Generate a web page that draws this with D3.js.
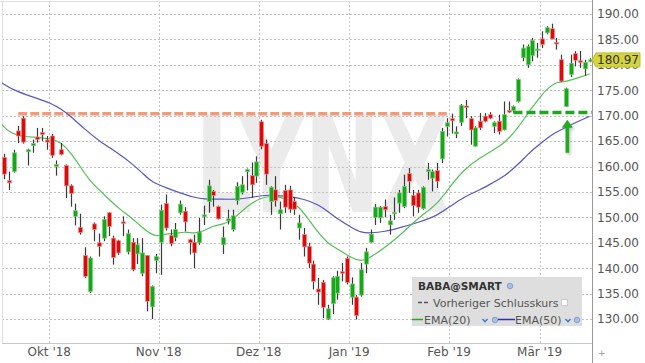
<!DOCTYPE html>
<html><head><meta charset="utf-8">
<script src="https://cdn.jsdelivr.net/npm/d3@7"></script>
<style>
body{margin:0;background:#fff;}
svg{display:block;font-family:"DejaVu Sans",Verdana,sans-serif;}
</style>
</head><body>
<svg id="c" width="645" height="363"></svg>
<script>
const dates = [
"2018-09-17","2018-09-18","2018-09-19","2018-09-20","2018-09-21","2018-09-24","2018-09-25","2018-09-26","2018-09-27","2018-09-28",
"2018-10-01","2018-10-02","2018-10-03","2018-10-04","2018-10-05","2018-10-08","2018-10-09","2018-10-10","2018-10-11","2018-10-12",
"2018-10-15","2018-10-16","2018-10-17","2018-10-18","2018-10-19","2018-10-22","2018-10-23","2018-10-24","2018-10-25","2018-10-26",
"2018-10-29","2018-10-30","2018-10-31",
"2018-11-01","2018-11-02","2018-11-05","2018-11-06","2018-11-07","2018-11-08","2018-11-09","2018-11-12","2018-11-13","2018-11-14",
"2018-11-15","2018-11-16","2018-11-19","2018-11-20","2018-11-21","2018-11-23","2018-11-26","2018-11-27","2018-11-28","2018-11-29","2018-11-30",
"2018-12-03","2018-12-04","2018-12-06","2018-12-07","2018-12-10","2018-12-11","2018-12-12","2018-12-13","2018-12-14","2018-12-17",
"2018-12-18","2018-12-19","2018-12-20","2018-12-21","2018-12-24","2018-12-26","2018-12-27","2018-12-28","2018-12-31",
"2019-01-02","2019-01-03","2019-01-04","2019-01-07","2019-01-08","2019-01-09","2019-01-10","2019-01-11","2019-01-14","2019-01-15",
"2019-01-16","2019-01-17","2019-01-18","2019-01-22","2019-01-23","2019-01-24","2019-01-25","2019-01-28","2019-01-29","2019-01-30","2019-01-31",
"2019-02-01","2019-02-04","2019-02-05","2019-02-06","2019-02-07","2019-02-08","2019-02-11","2019-02-12","2019-02-13","2019-02-14",
"2019-02-15","2019-02-19","2019-02-20","2019-02-21","2019-02-22","2019-02-25","2019-02-26","2019-02-27","2019-02-28",
"2019-03-01","2019-03-04","2019-03-05","2019-03-06","2019-03-07","2019-03-08","2019-03-11","2019-03-12","2019-03-13","2019-03-14","2019-03-15"
];
const open = [161.8,157.2,159.0,167.0,169.5,162.9,164.1,165.8,166.7,165.2,
166.0,160.0,163.3,160.2,156.2,150.2,148.0,142.5,135.4,148.7,
145.0,145.9,150.9,145.9,145.4,149.1,143.2,145.1,142.8,139.0,
142.5,132.4,141.5,145.1,152.7,146.4,146.0,150.9,151.2,145.6,
145.1,145.0,150.1,153.1,155.1,152.1,144.6,149.3,147.6,153.3,
154.9,159.0,158.2,158.1,168.8,164.5,153.1,155.4,150.7,155.3,
155.4,153.1,147.9,146.6,144.3,140.8,135.9,137.2,130.0,133.0,
135.1,139.3,141.9,134.3,134.3,134.7,140.8,145.1,150.0,149.9,
152.1,148.5,150.8,152.8,152.1,158.6,154.3,154.8,151.7,159.0,
157.7,159.2,161.5,167.9,169.4,166.4,168.7,171.9,169.4,164.0,
168.9,169.9,170.2,167.9,168.9,167.2,171.0,171.0,172.8,181.4,
180.0,181.8,182.8,185.1,186.3,187.1,184.4,181.0,171.8,178.1,
182.2,180.8,179.2,180.8];
const high = [162.5,159.0,163.3,168.0,169.9,163.5,165.3,167.6,167.6,166.0,
166.4,161.2,164.6,160.4,156.5,152.7,150.7,144.1,142.3,149.0,
146.8,150.2,151.0,146.4,145.6,150.2,147.6,145.9,145.9,145.9,
142.6,136.6,142.8,152.5,154.5,147.6,148.9,153.3,152.0,145.8,
146.6,149.9,152.3,157.4,155.4,152.3,148.2,151.5,151.5,156.9,
158.1,159.6,160.8,162.0,169.2,165.3,156.1,158.1,153.1,156.4,
156.2,154.0,150.5,147.9,145.0,141.5,138.1,137.7,132.8,138.4,
139.5,141.0,142.3,138.2,134.7,141.0,144.0,147.6,152.6,152.2,
153.5,150.5,153.9,155.4,158.4,159.7,155.4,155.4,156.1,160.7,
159.4,160.7,167.6,169.5,170.4,167.9,172.3,173.1,169.9,167.9,
170.5,170.5,170.7,168.9,170.2,172.8,172.8,172.0,177.3,184.0,
184.0,185.3,184.3,186.6,187.6,188.1,185.3,182.0,175.5,182.0,
182.7,182.7,181.0,181.3];
const low = [157.5,155.4,158.8,164.6,164.5,160.2,162.7,164.7,165.0,163.3,
161.7,158.2,162.2,153.8,152.1,148.4,146.6,138.1,135.1,145.3,
142.3,145.3,146.3,140.7,142.6,146.3,142.7,139.4,140.8,138.4,
131.5,130.0,139.0,138.7,147.4,144.3,145.3,150.5,147.2,142.7,
140.0,144.6,148.5,150.9,152.1,149.6,142.8,148.6,147.2,152.5,
154.5,155.3,153.8,156.8,163.4,156.4,150.5,152.1,147.6,150.9,
150.9,150.5,145.6,142.3,140.0,135.8,132.8,130.2,129.8,131.0,
133.8,137.4,136.8,132.8,129.9,134.4,139.0,145.0,148.5,148.9,
150.0,146.6,149.5,150.9,151.8,154.8,150.2,150.9,151.5,157.4,
155.1,155.8,160.7,165.9,166.5,165.6,168.0,169.5,164.3,163.9,
167.2,168.7,169.3,166.6,166.3,167.1,170.5,170.6,172.6,180.7,
179.4,180.7,181.4,183.3,186.0,185.0,183.0,176.6,171.7,177.6,
179.7,179.4,177.9,180.5];
const close = [158.5,156.8,162.7,166.0,164.8,163.3,164.5,165.3,166.3,164.8,
162.2,160.4,162.4,156.2,154.7,151.3,147.0,138.4,142.0,147.6,
144.3,149.6,148.2,142.1,143.0,148.8,146.8,139.7,144.6,143.0,
133.5,136.4,142.3,151.4,147.9,144.8,147.6,152.6,149.1,145.0,
143.0,147.1,150.5,156.2,154.3,149.7,146.0,149.7,150.3,156.1,
156.4,159.4,156.4,160.9,164.0,158.5,155.9,153.3,151.5,152.0,
151.6,151.6,148.9,144.2,141.0,137.4,135.3,132.3,132.0,138.1,
138.4,139.1,137.2,136.9,130.7,139.7,143.2,146.7,152.0,152.0,
151.5,149.3,151.0,154.8,156.1,157.1,152.3,152.0,155.9,159.4,
159.0,157.1,166.9,168.6,169.0,166.8,172.0,171.7,167.2,167.6,
167.6,168.9,169.5,168.6,166.9,170.2,170.8,171.8,177.1,183.3,
183.6,184.8,183.1,184.0,187.3,185.1,184.2,176.8,175.3,180.3,
180.9,180.5,180.5,180.97];
// EMA samples: [candle index, value]
const ema20 = [[-0.5,168.3],[1,166.8],[3,166.0],[6,165.8],[10,165.5],[12,164.7],[14,162.8],[16,160.0],[18,157.2],[20,155.4],
[22,153.6],[24,151.8],[27,149.8],[29,148.0],[30,147.3],[32,146.1],[34,146.8],[36,146.8],[38,147.2],[40,146.8],[42,147.3],
[44,148.4],[46,148.6],[48,149.5],[50,151.3],[52,152.8],[54,153.8],[56,154.2],[58,154.0],[60,153.4],[62,152.0],[64,149.6],
[66,147.0],[68,144.8],[71,143.3],[73,142.0],[75,141.3],[77,142.1],[80,144.1],[83,146.3],[86,149.0],[89,151.3],[91,152.6],
[94,156.5],[97,159.7],[100,161.7],[103,163.4],[105,164.5],[108,167.6],[110,170.5],[112,172.9],[114,175.3],[116,176.6],
[117,176.6],[118,176.7],[120,177.3],[123,178.2]];
const ema50 = [[-0.5,176.5],[2,175.0],[6,173.7],[10,172.4],[12,171.3],[14,169.9],[17,167.3],[20,165.0],[24,162.6],[27,160.5],
[30,157.9],[31,157.0],[34,155.8],[37,154.8],[40,153.9],[42,153.6],[45,153.6],[49,153.5],[52,153.9],[54,154.3],[56,154.4],
[60,154.1],[63,153.6],[66,152.5],[68,151.2],[70,149.7],[73,148.0],[75,147.0],[77,146.9],[80,147.2],[83,147.9],[87,149.0],
[91,150.3],[94,152.4],[97,154.2],[100,155.4],[103,157.0],[105,158.0],[108,160.4],[110,162.4],[112,164.0],[115,166.3],
[117,167.2],[119,168.2],[123,169.9]];
const yTicks = [130,135,140,145,150,155,160,165,170,175,180,185,190];
const monthTicks = ["2018-10-01","2018-11-01","2018-12-03","2019-01-02","2019-02-01","2019-03-01"];
const monthLabels = ["Okt '18","Nov '18","Dez '18","Jan '19","Feb '19","Mär '19"];
const resistance = {level:170.4, from:3, to:93};
const support = {level:170.6, from:107};
const arrowIdx = 118, arrowFrom = 162.7, arrowTo = 169.2;
const lastPrice = 180.97;

const svg = d3.select("#c");
const W = 645, H = 363, plotR = 592, plotB = 343;
const x = d3.scaleBand().domain(dates).range([1.6, plotR]).padding(0);
const bw = x.bandwidth();
const cx = i => x(dates[Math.max(0, Math.min(dates.length-1, Math.round(i)))]) + bw/2 + (i - Math.round(i))*bw;
const y = d3.scaleLinear().domain([130,190]).range([319,14]);

const defs = svg.append("defs");
const f = defs.append("filter").attr("id","blur").attr("x","-5%").attr("y","-200%").attr("width","110%").attr("height","500%");
f.append("feGaussianBlur").attr("stdDeviation",1.6);
defs.append("clipPath").attr("id","plot").append("rect").attr("x",2).attr("y",1).attr("width",plotR-2).attr("height",plotB-1);

// watermark
svg.append("text").attr("x",195).attr("y",212).attr("textLength",255).attr("lengthAdjust","spacingAndGlyphs")
  .attr("font-size",134).attr("font-weight","bold").attr("fill","#ebebeb").text("LYNX");

// gridlines
const g = svg.append("g");
g.selectAll("line.h").data(yTicks).join("line")
  .attr("x1",2).attr("x2",plotR).attr("y1",d=>Math.round(y(d))+0.5).attr("y2",d=>Math.round(y(d))+0.5)
  .attr("stroke","#c4c4c4").attr("stroke-dasharray","2,2");
g.selectAll("line.v").data(monthTicks).join("line")
  .attr("x1",d=>Math.round(x(d))+0.5).attr("x2",d=>Math.round(x(d))+0.5).attr("y1",1).attr("y2",plotB)
  .attr("stroke","#c4c4c4").attr("stroke-dasharray","2,2");

// frame
svg.append("line").attr("x1",0).attr("x2",plotR).attr("y1",1.5).attr("y2",1.5).attr("stroke","#e0e0e0");
svg.append("line").attr("x1",2.5).attr("x2",2.5).attr("y1",1).attr("y2",plotB).attr("stroke","#e0e0e0");
svg.append("line").attr("x1",2).attr("x2",plotR).attr("y1",plotB+0.5).attr("y2",plotB+0.5).attr("stroke","#c8c8c8");

// resistance line (orange dashed with shadow)
const rx1 = cx(resistance.from), rx2 = cx(resistance.to);
svg.append("line").attr("x1",rx1).attr("x2",rx2).attr("y1",y(resistance.level)+3).attr("y2",y(resistance.level)+3)
  .attr("stroke","#9a9a9a").attr("stroke-width",3).attr("stroke-dasharray","9,3").attr("filter","url(#blur)").attr("opacity",0.8);
svg.append("line").attr("x1",rx1).attr("x2",rx2).attr("y1",y(resistance.level)).attr("y2",y(resistance.level))
  .attr("stroke","#f59a78").attr("stroke-width",3.5).attr("stroke-dasharray","9,3");

// EMA lines
const line = d3.line().x(d=>cx(d[0])).y(d=>y(d[1])).curve(d3.curveBasis);
const pg = svg.append("g").attr("clip-path","url(#plot)");
pg.append("path").datum(ema50).attr("d",line).attr("fill","none").attr("stroke","#5656c4").attr("stroke-width",1.2);
pg.append("path").datum(ema20).attr("d",line).attr("fill","none").attr("stroke","#55c055").attr("stroke-width",1.2);

// candles
const data = dates.map((d,i)=>({d, o:open[i], h:high[i], l:low[i], c:close[i]}));
const cg = svg.append("g");
cg.selectAll("line.w").data(data).join("line")
  .attr("x1",d=>Math.round(x(d.d)+bw/2)+0.5).attr("x2",d=>Math.round(x(d.d)+bw/2)+0.5)
  .attr("y1",d=>y(d.h)).attr("y2",d=>y(d.l)).attr("stroke","#3a3a3a").attr("stroke-width",1.2);
cg.selectAll("rect").data(data).join("rect")
  .attr("x",d=>Math.round(x(d.d)+bw/2)-1.5).attr("width",4)
  .attr("y",d=>y(Math.max(d.o,d.c))).attr("height",d=>Math.max(1.5, Math.abs(y(d.o)-y(d.c))))
  .attr("fill",d=>d.c>=d.o?"#16a816":"#dd0a0a")
  .attr("stroke",d=>d.c>=d.o?"#7fd07f":"#f08a8a").attr("stroke-width",0.7);

// support line (green dashed) and arrow
const sx1 = cx(support.from);
svg.append("line").attr("x1",sx1).attr("x2",plotR).attr("y1",y(support.level)+2.5).attr("y2",y(support.level)+2.5)
  .attr("stroke","#a0a0a0").attr("stroke-width",3).attr("stroke-dasharray","9,4").attr("filter","url(#blur)").attr("opacity",0.7);
svg.append("line").attr("x1",sx1).attr("x2",plotR).attr("y1",y(support.level)).attr("y2",y(support.level))
  .attr("stroke","#1fa51f").attr("stroke-width",3.5).attr("stroke-dasharray","9,4");
const ax = cx(arrowIdx)+1.5, ay1 = y(arrowFrom), ay2 = y(arrowTo);
const arrowPath = `M${ax-1.8},${ay1} L${ax-1.8},${ay2+8} L${ax-5.5},${ay2+8} L${ax},${ay2} L${ax+5.5},${ay2+8} L${ax+1.8},${ay2+8} L${ax+1.8},${ay1} Z`;
svg.append("path").attr("d",arrowPath).attr("transform","translate(1.5,2)").attr("fill","#999").attr("filter","url(#blur)").attr("opacity",0.6);
svg.append("path").attr("d",arrowPath).attr("fill","#22aa22");

// right axis
const ya = d3.axisRight(y).tickValues(yTicks).tickFormat(d3.format(".2f")).tickSize(0).tickPadding(5);
const yg = svg.append("g").attr("transform",`translate(${plotR},0)`).call(ya);
yg.select(".domain").remove();
yg.selectAll("text").attr("font-size",12).attr("fill","#555").attr("font-family","DejaVu Sans, Verdana, sans-serif");
svg.append("line").attr("x1",plotR+0.5).attr("x2",plotR+0.5).attr("y1",0).attr("y2",H).attr("stroke","#9a9a9a");

// bottom axis (month labels)
const xa = d3.axisBottom(x).tickValues(monthTicks).tickFormat((d,i)=>monthLabels[i]).tickSize(0).tickPadding(4);
const xg = svg.append("g").attr("transform",`translate(${-bw/2},${plotB})`).call(xa);
xg.select(".domain").remove();
xg.selectAll("text").attr("font-size",12).attr("fill","#555").attr("font-family","DejaVu Sans, Verdana, sans-serif");
svg.append("text").attr("x",598).attr("y",356).attr("font-size",9).attr("fill","#999").text("+");

// last price tag
const ly = y(lastPrice);
svg.append("path").attr("d",`M${plotR},${ly} L${plotR+4},${ly-7} L640,${ly-7} L640,${ly+7} L${plotR+4},${ly+7} Z`)
  .attr("fill","#d5d43c").attr("stroke","#bdbc2c");
svg.append("text").attr("x",597).attr("y",ly).attr("dy","0.36em").attr("font-size",12).attr("fill","#333").text(d3.format(".2f")(lastPrice));

// legend
const lg = svg.append("g");
lg.append("rect").attr("x",412).attr("y",277).attr("width",170).attr("height",49).attr("fill","#dedede");
lg.append("text").attr("x",418).attr("y",290).attr("font-size",10.5).attr("font-weight","bold").attr("fill","#333").text("BABA@SMART");
const icon = (cxp, cyp) => { lg.append("circle").attr("cx",cxp).attr("cy",cyp).attr("r",2.8).attr("fill","#a9c0e6").attr("stroke","#7796c8").attr("stroke-width",0.8); };
const check = (cxp, cyp) => { lg.append("path").attr("d",`M${cxp-2.5},${cyp-1} L${cxp},${cyp+1.8} L${cxp+2.5},${cyp-1}`).attr("fill","none").attr("stroke","#3a78d0").attr("stroke-width",1.4); };
icon(510,286);
lg.append("line").attr("x1",418).attr("x2",430).attr("y1",302.5).attr("y2",302.5).attr("stroke","#555").attr("stroke-width",1.5).attr("stroke-dasharray","4,2");
lg.append("text").attr("x",433).attr("y",306.5).attr("font-size",11).attr("fill","#555").text("Vorheriger Schlusskurs");
lg.append("rect").attr("x",561.5).attr("y",299.5).attr("width",6).attr("height",6).attr("fill","#fff").attr("stroke","#ccc");
lg.append("line").attr("x1",412).attr("x2",423).attr("y1",319.5).attr("y2",319.5).attr("stroke","#22aa22").attr("stroke-width",1.5);
lg.append("text").attr("x",424).attr("y",323.5).attr("font-size",11).attr("fill","#555").text("EMA(20)");
check(485,320); icon(495,320);
lg.append("line").attr("x1",498).attr("x2",515).attr("y1",319.5).attr("y2",319.5).attr("stroke","#3030aa").attr("stroke-width",1.5);
lg.append("text").attr("x",515).attr("y",323.5).attr("font-size",11).attr("fill","#555").text("EMA(50)");
check(568,320); icon(577,320);
</script>
</body></html>
